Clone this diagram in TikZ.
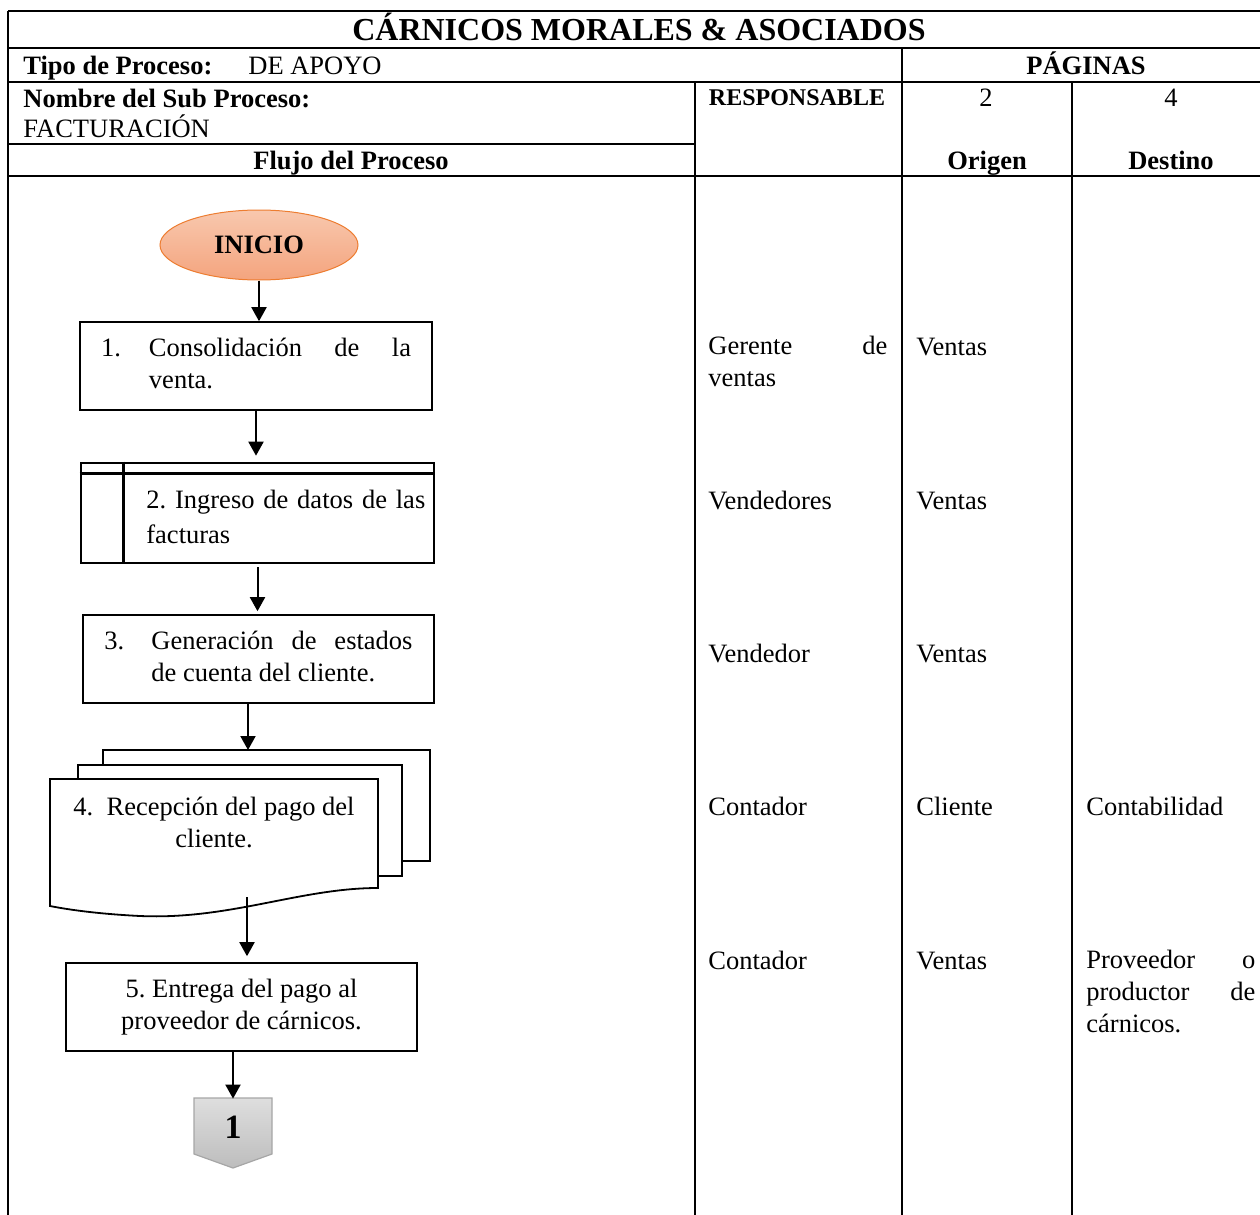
\documentclass[tikz,border=0pt]{standalone}
\usepackage{fontspec}
\setmainfont{Liberation Serif}
\usetikzlibrary{shapes.geometric,arrows.meta}
\definecolor{starttop}{HTML}{F8C8AE}
\definecolor{startbot}{HTML}{F4A47E}
\definecolor{startline}{HTML}{ED7D31}
\definecolor{offtop}{HTML}{DEDEDE}
\definecolor{offbot}{HTML}{BDBDBD}
\definecolor{offline}{HTML}{A6A6A6}
\hyphenpenalty=10000
\tolerance=10000
\hbadness=10000
\frenchspacing
\newcommand{\txtsize}{\fontsize{13.25pt}{16pt}\selectfont}

\begin{document}
\begin{tikzpicture}[x=0.5pt,y=-0.5pt,
  grid/.style={line width=1pt},
  txt/.style={font=\txtsize, inner sep=0pt},
  hdr/.style={font=\txtsize\bfseries, inner sep=0pt},
  stepbox/.style={draw, line width=0.8pt, minimum width=176pt, minimum height=44pt,
    font=\txtsize, inner sep=0pt},
  docline/.style={draw, fill=white, line width=0.9pt},
  arr/.style={-{Triangle[length=7pt,width=7.5pt]}, line width=1pt},
  startnode/.style={ellipse, draw=startline, line width=0.5pt, top color=starttop,
    bottom color=startbot, minimum width=99pt, minimum height=35pt, font=\txtsize\bfseries},
]
\useasboundingbox (0,0) rectangle (1260,1215);

% table
\draw[grid] (8,11) -- (1270,11);
\draw[grid] (8,48) -- (1270,48);
\draw[grid] (8,82) -- (1270,82);
\draw[grid] (8,144) -- (695,144);
\draw[grid] (8,176) -- (1270,176);
\draw[grid] (8,11) -- (8,1230);
\draw[grid] (695,82) -- (695,1230);
\draw[grid] (902,48) -- (902,1230);
\draw[grid] (1072,82) -- (1072,1230);

% headings
\node[font=\fontsize{16pt}{18pt}\selectfont\bfseries, inner sep=0pt, anchor=base] (title) at (639,40) {CÁRNICOS MORALES \& ASOCIADOS};
\node[hdr, anchor=base west] (tipo) at (23,75) {Tipo de Proceso:};
\node[txt, anchor=base west] (tipoval) at (248,75) {DE APOYO};
\node[hdr, anchor=base] (pag) at (1086,75) {PÁGINAS};
\node[hdr, anchor=base west] (sub) at (23,107) {Nombre del Sub Proceso:};
\node[txt, anchor=base west] (subval) at (23,137) {FACTURACIÓN};
\node[font=\fontsize{12pt}{14pt}\selectfont\bfseries, inner sep=0pt, anchor=base] (resp) at (797,105) {RESPONSABLE};
\node[txt, anchor=base] (pg2) at (986,106) {2};
\node[txt, anchor=base] (pg4) at (1171,106) {4};
\node[hdr, anchor=base] (flujo) at (351,169) {Flujo del Proceso};
\node[hdr, anchor=base] (orig) at (987,169) {Origen};
\node[hdr, anchor=base] (dest) at (1171,169) {Destino};

% flow
\node[startnode] (start) at (259,245) {INICIO};
\node[stepbox] (b1) at (256,366) {\begin{tabular}{@{}p{24pt}@{}p{131pt}@{}}1. & Consolidación de la venta.\end{tabular}};
\node[stepbox, line width=1.3pt, minimum width=176.5pt, minimum height=50pt] (b2) at (257.5,513) {};
\draw[line width=1.3pt] ([xshift=22pt]b2.north west) -- ([xshift=22pt]b2.south west);
\draw[line width=1.3pt] ([yshift=-6pt]b2.north west) -- ([yshift=-6pt]b2.north east);
\node[txt, font=\fontsize{13.25pt}{17.5pt}\selectfont, text width=140pt, align=left, anchor=north west] (t2) at (146,490) {2. Ingreso de datos de las facturas};
\node[stepbox, minimum width=175.5pt] (b3) at (258.5,659) {\begin{tabular}{@{}p{23.5pt}@{}p{130.5pt}@{}}3. & Generación de estados de cuenta del cliente.\end{tabular}};

\draw[docline] (103,750) rectangle (430,861);
\draw[docline] (78,765) rectangle (402,876);
\draw[docline] (50,779) -- (378,779) -- (378,888) .. controls (300,888) and (230,920) .. (140,916) .. controls (100,914) and (70,910) .. (50,906) -- cycle;
\node[txt, align=center] (doc4) at (214,822) {4.\enspace Recepción del pago del\\cliente.};
\coordinate (d4in) at (248,750);
\coordinate (d4out) at (247,897);

\node[stepbox, minimum width=175.5pt, align=center] (b5) at (241.5,1007) {5. Entrega del pago al\\proveedor de cárnicos.};

\path[draw=offline, line width=0.6pt, top color=offtop, bottom color=offbot] (194,1098) -- (272,1098) -- (272,1154) -- (233,1168) -- (194,1154) -- cycle;
\node[font=\fontsize{17pt}{17pt}\selectfont\bfseries, inner sep=0pt, minimum width=39pt, minimum height=28pt] (off1) at (233,1127) {1};

\draw[arr] (start.south) -- (start.south |- b1.north);
\draw[arr, shorten >=3pt] (b1.south) -- (b1.south |- b2.north);
\draw[arr, shorten <=1.5pt, shorten >=1.5pt] (b2.south) -- (b2.south |- b3.north);
\draw[arr] (b3.south -| d4in) -- (d4in);
\draw[arr, shorten >=3pt] (d4out) -- (d4out |- b5.north);
\draw[arr] (off1.north |- b5.south) -- (off1.north);

% responsable / origen / destino
\node[txt, text width=89.5pt, align=justify, anchor=north west] (r1) at (708,336) {Gerente de ventas};
\node[txt, anchor=base west] (r2) at (708,509) {Vendedores};
\node[txt, anchor=base west] (r3) at (708,662) {Vendedor};
\node[txt, anchor=base west] (r4) at (708,815) {Contador};
\node[txt, anchor=base west] (r5) at (708,969) {Contador};
\node[txt, anchor=base west] (o1) at (916,355) {Ventas};
\node[txt, anchor=base west] (o2) at (916,509) {Ventas};
\node[txt, anchor=base west] (o3) at (916,662) {Ventas};
\node[txt, anchor=base west] (o4) at (916,815) {Cliente};
\node[txt, anchor=base west] (o5) at (916,969) {Ventas};
\node[txt, anchor=base west] (d4) at (1086,815) {Contabilidad};
\node[txt, text width=84.5pt, align=justify, anchor=north west] (d5) at (1086,950) {Proveedor o productor de cárnicos.};
\end{tikzpicture}
\end{document}
